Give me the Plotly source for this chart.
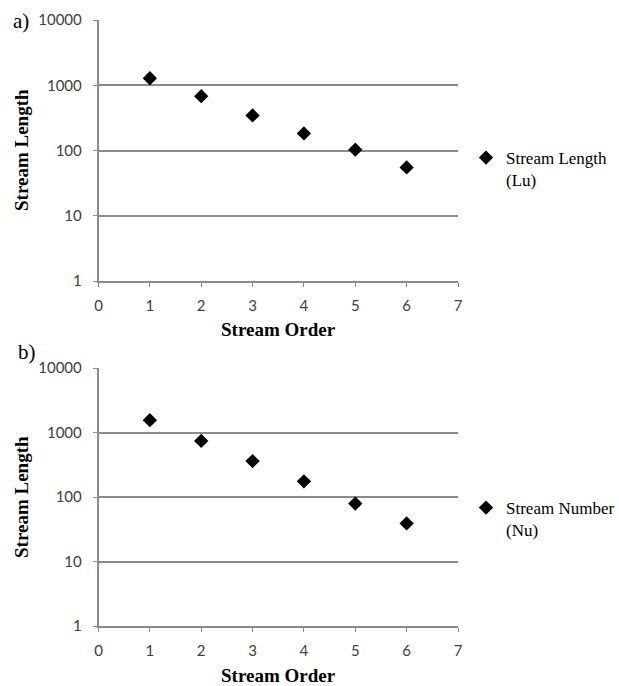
import plotly.graph_objects as go

W, H = 619, 686

stream_order = [1, 2, 3, 4, 5, 6]
stream_length_lu = [1280, 680, 345, 183, 103, 55]
stream_number_nu = [1550, 740, 360, 175, 79, 39]
x_ticks = [0, 1, 2, 3, 4, 5, 6, 7]
y_ticks = [1, 10, 100, 1000, 10000]

def px_x(p):
    return p / W

def px_y(p):
    return 1 - p / H

fig = go.Figure()
fig.add_trace(go.Scatter(
    x=stream_order, y=stream_length_lu, mode="markers",
    name="Stream Length<br>(Lu)",
    marker=dict(symbol="diamond", size=11, color="black"),
    xaxis="x", yaxis="y", legend="legend"))
fig.add_trace(go.Scatter(
    x=stream_order, y=stream_number_nu, mode="markers",
    name="Stream Number<br>(Nu)",
    marker=dict(symbol="diamond", size=11, color="black"),
    xaxis="x2", yaxis="y2", legend="legend2"))

grid = "#8c8c8c"
tickfont = dict(family="Lato, Liberation Sans, sans-serif", size=15, color="#404040")

def xaxis_cfg(anchor):
    return dict(domain=[px_x(98.5), px_x(458)], range=[0, 7], tickvals=x_ticks,
                showgrid=False, zeroline=False, showline=True, linecolor=grid, linewidth=1.5,
                ticks="outside", ticklen=4, tickcolor=grid, tickfont=tickfont,
                ticklabelstandoff=6,
                anchor=anchor, fixedrange=True, automargin=False)

def yaxis_cfg(anchor, top, bottom):
    return dict(domain=[px_y(bottom), px_y(top)], type="log", range=[0, 4],
                tickvals=y_ticks, ticktext=[str(v) for v in y_ticks],
                showgrid=True, gridcolor=grid, gridwidth=1.5, zeroline=False,
                showline=True, linecolor=grid, linewidth=1.5,
                ticks="outside", ticklen=4, tickcolor=grid, tickfont=tickfont,
                ticklabelstandoff=8,
                anchor=anchor, fixedrange=True, automargin=False)

title_font = dict(family="Liberation Serif, Times New Roman, serif", size=19, color="black")
legend_font = dict(family="Liberation Serif, Times New Roman, serif", size=17, color="black")

fig.update_layout(
    width=W, height=H, margin=dict(l=0, r=0, t=0, b=0, autoexpand=False),
    paper_bgcolor="white", plot_bgcolor="white",
    xaxis=xaxis_cfg("y"), yaxis=yaxis_cfg("x", 20, 281),
    xaxis2=xaxis_cfg("y2"), yaxis2=yaxis_cfg("x2", 368, 626),
    legend=dict(x=px_x(466), y=px_y(140), xanchor="left", yanchor="top",
                font=legend_font, bgcolor="rgba(0,0,0,0)", valign="top",
                itemwidth=30, tracegroupgap=0, borderwidth=0),
    legend2=dict(x=px_x(466), y=px_y(490), xanchor="left", yanchor="top",
                 font=legend_font, bgcolor="rgba(0,0,0,0)", valign="top",
                 itemwidth=30, tracegroupgap=0, borderwidth=0),
    showlegend=True,
)

annotations = [
    dict(text="<b>Stream Length</b>", x=px_x(21), y=px_y(150), textangle=-90, font=title_font),
    dict(text="<b>Stream Order</b>", x=px_x(278), y=px_y(329), font=title_font),
    dict(text="<b>Stream Length</b>", x=px_x(21), y=px_y(497), textangle=-90, font=title_font),
    dict(text="<b>Stream Order</b>", x=px_x(278), y=px_y(675), font=title_font),
    dict(text="a)", x=px_x(21), y=px_y(21), font=dict(family="Liberation Serif, serif", size=21, color="black")),
    dict(text="b)", x=px_x(27), y=px_y(352), font=dict(family="Liberation Serif, serif", size=21, color="black")),
]
for a in annotations:
    a.update(xref="paper", yref="paper", showarrow=False, xanchor="center", yanchor="middle")
fig.update_layout(annotations=annotations)

fig.write_html("out.html", config={"displayModeBar": False},
               post_script="document.body.style.margin='0';document.body.style.overflow='hidden';")
